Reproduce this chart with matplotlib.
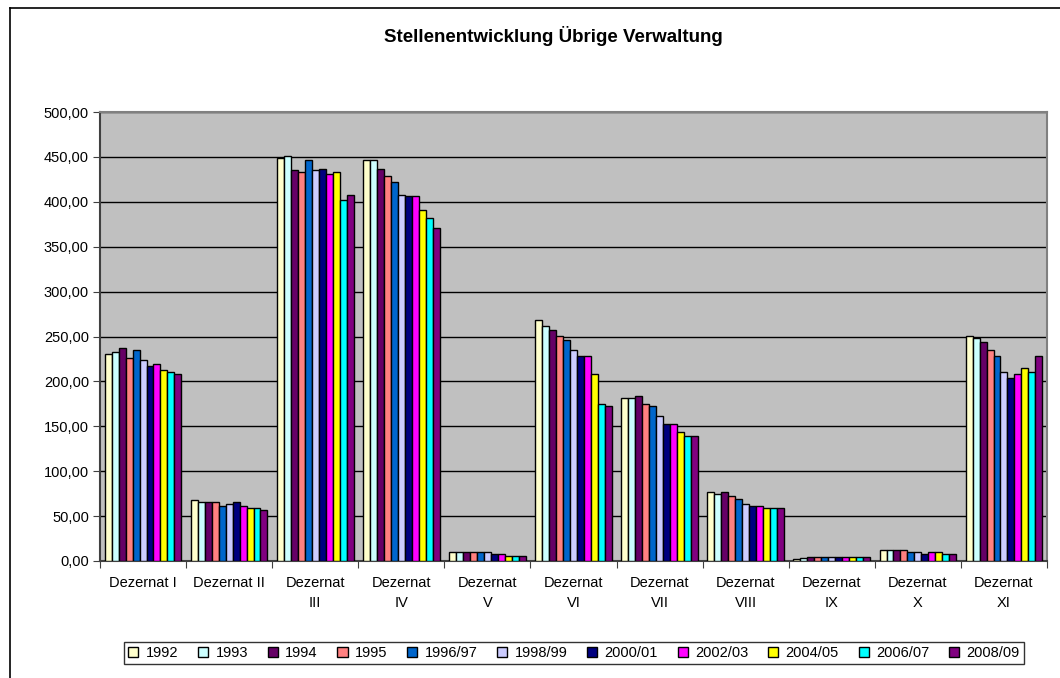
import matplotlib
matplotlib.use("Agg")
import matplotlib.pyplot as plt
import numpy as np
from matplotlib.lines import Line2D
from matplotlib.patches import Rectangle

categories = ["Dezernat I", "Dezernat II", "Dezernat\nIII", "Dezernat\nIV", "Dezernat\nV",
              "Dezernat\nVI", "Dezernat\nVII", "Dezernat\nVIII", "Dezernat\nIX",
              "Dezernat\nX", "Dezernat\nXI"]
series_names = ["1992", "1993", "1994", "1995", "1996/97", "1998/99",
                "2000/01", "2002/03", "2004/05", "2006/07", "2008/09"]

# values per series (one entry per Dezernat I..XI)
v1992 = [230.5, 68, 448.5, 446, 10, 268.5, 182, 77, 2.5, 12, 250.5]
v1993 = [232.5, 65.5, 450.5, 446, 10, 262, 182, 75, 3, 12, 248.5]
v1994 = [237, 65.5, 435, 437, 10, 257.5, 184, 77, 5, 12, 244]
v1995 = [226, 65.5, 433, 428.5, 10, 251, 175, 72.5, 5, 12, 235]
v1996 = [235, 61, 446, 421.5, 10, 246.5, 173, 68.5, 5, 10, 228.5]
v1998 = [224, 63.5, 435, 408, 10, 235.5, 162, 64, 5, 10, 210.5]
v2000 = [217, 65.5, 437, 406, 8, 228.5, 153, 61.5, 5, 8, 204]
v2002 = [219, 61, 430.5, 406, 8, 228.5, 153, 61.5, 5, 10, 208]
v2004 = [212.5, 59, 433, 390.5, 5.5, 208.5, 144, 59.5, 5, 10, 215]
v2006 = [210, 59, 401.5, 381.5, 5.5, 175, 139.5, 59.5, 5, 8, 210.5]
v2008 = [208, 57, 408, 370.5, 5.5, 173, 139.5, 59.5, 5, 8, 228.5]
series_values = [v1992, v1993, v1994, v1995, v1996, v1998, v2000, v2002, v2004, v2006, v2008]

colors = ["#FFFFCC", "#CCFFFF", "#660066", "#FF8080", "#0066CC", "#CCCCFF",
          "#000080", "#FF00FF", "#FFFF00", "#00FFFF", "#800080"]

yticks = [0, 50, 100, 150, 200, 250, 300, 350, 400, 450, 500]
ytick_labels = ["0,00", "50,00", "100,00", "150,00", "200,00", "250,00",
                "300,00", "350,00", "400,00", "450,00", "500,00"]

title = "Stellenentwicklung Übrige Verwaltung"

plt.rcParams['font.family'] = ['Liberation Sans', 'DejaVu Sans']

W, H = 1060, 678
fig = plt.figure(figsize=(W / 100, H / 100), dpi=100)
fig.patch.set_facecolor("white")

ax = fig.add_axes([100 / W, 1 - 561 / H, (1047 - 100) / W, (561 - 112) / H])
ax.set_facecolor("#C0C0C0")

n = len(series_names)
ncat = len(categories)
x = np.arange(ncat)
w = 0.89 / n
for j, (name, vals, col) in enumerate(zip(series_names, series_values, colors)):
    ax.bar(x + (j - (n - 1) / 2) * w, vals, width=w, color=col, edgecolor="black",
           linewidth=1.0, label=name, zorder=3)

ax.set_xlim(-0.5, ncat - 0.5)
ax.set_ylim(0, 500)
ax.set_yticks(yticks)
ax.set_yticklabels(ytick_labels, fontsize=10.5)
ax.yaxis.grid(True, color="black", linewidth=1.0, zorder=0)
ax.set_axisbelow(True)

# category ticks at boundaries, labels centered
ax.set_xticks(np.arange(ncat + 1) - 0.5)
ax.set_xticklabels([])
ax.set_xticks(x, minor=True)
ax.set_xticklabels(categories, minor=True, fontsize=10.5, linespacing=1.5)
ax.tick_params(axis="x", which="minor", length=0, pad=11)
ax.tick_params(axis="x", which="major", length=5, color="#404040")
ax.tick_params(axis="y", length=5, color="#404040", pad=3)
for t in ax.get_xticklabels(minor=True):
    t.set_multialignment("center")

ax.spines["left"].set_color("#404040")
ax.spines["bottom"].set_color("#404040")
ax.spines["top"].set_color("#808080")
ax.spines["right"].set_color("#808080")
for s in ax.spines.values():
    s.set_linewidth(1.5)

fig.text(553 / W, 1 - 36 / H, title, ha="center", va="center",
         fontsize=13.5, fontweight="bold")

handles = [Rectangle((0, 0), 1, 1, facecolor=c, edgecolor="black", linewidth=1.0)
           for c in colors]
leg = fig.legend(handles, series_names, loc="center", ncol=n,
                 bbox_to_anchor=(574 / W, 1 - 653 / H), fontsize=10.5,
                 frameon=True, fancybox=False, edgecolor="black",
                 handlelength=0.7, handleheight=0.7, handletextpad=0.5,
                 columnspacing=1.35, borderpad=0.3)
leg.get_frame().set_linewidth(1.0)

# outer chart border
fig.add_artist(Line2D([10 / W, 10 / W], [0, 1 - 8 / H], color="black", linewidth=1.2))
fig.add_artist(Line2D([10 / W, 1], [1 - 8 / H, 1 - 8 / H], color="black", linewidth=1.2))

fig.savefig("out.png", dpi=100)
